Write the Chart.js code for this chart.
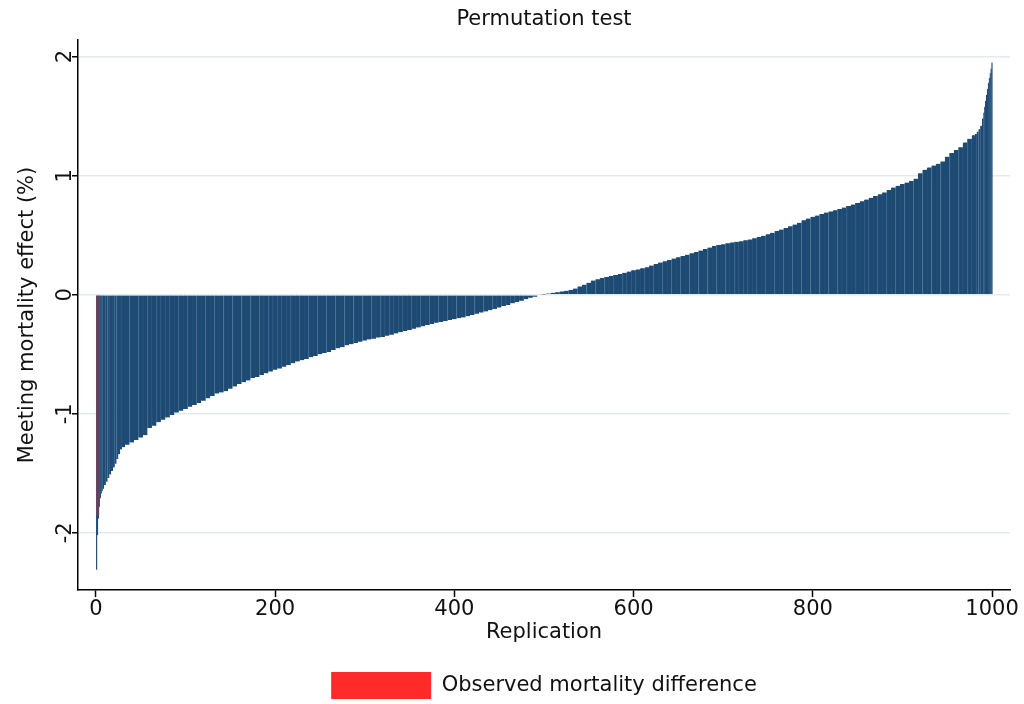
<!DOCTYPE html>
<html>
<head>
<meta charset="utf-8">
<title>Permutation test</title>
<script src="https://cdn.jsdelivr.net/npm/chart.js@4.4.1/dist/chart.umd.min.js"></script>
<style>
  html, body { margin: 0; padding: 0; background: #fff; }
</style>
</head>
<body>
<canvas id="permChart" width="1024" height="704"></canvas>
<script>
// replications: every rep at the tails, every 5 in the middle
const replications = [
  1, 2, 3, 4, 5, 6, 7, 8, 10, 12,
  14, 16, 18, 20, 22, 24, 26, 28, 30, 35,
  40, 45, 50, 55, 60, 65, 70, 75, 80, 85,
  90, 95, 100, 105, 110, 115, 120, 125, 130, 135,
  140, 145, 150, 155, 160, 165, 170, 175, 180, 185,
  190, 195, 200, 205, 210, 215, 220, 225, 230, 235,
  240, 245, 250, 255, 260, 265, 270, 275, 280, 285,
  290, 295, 300, 305, 310, 315, 320, 325, 330, 335,
  340, 345, 350, 355, 360, 365, 370, 375, 380, 385,
  390, 395, 400, 405, 410, 415, 420, 425, 430, 435,
  440, 445, 450, 455, 460, 465, 470, 475, 480, 485,
  490, 495, 500, 505, 510, 515, 520, 525, 530, 535,
  540, 545, 550, 555, 560, 565, 570, 575, 580, 585,
  590, 595, 600, 605, 610, 615, 620, 625, 630, 635,
  640, 645, 650, 655, 660, 665, 670, 675, 680, 685,
  690, 695, 700, 705, 710, 715, 720, 725, 730, 735,
  740, 745, 750, 755, 760, 765, 770, 775, 780, 785,
  790, 795, 800, 805, 810, 815, 820, 825, 830, 835,
  840, 845, 850, 855, 860, 865, 870, 875, 880, 885,
  890, 895, 900, 905, 910, 915, 920, 925, 930, 935,
  940, 945, 950, 955, 960, 965, 970, 975, 980, 982,
  984, 986, 988, 990, 991, 992, 993, 994, 995, 996,
  997, 998, 999, 1000
];

// meeting mortality effect (%) for each replication above, sorted
const effects = [
  -2.31, -2.02, -1.88, -1.78, -1.71, -1.67, -1.65, -1.63, -1.60, -1.57,
  -1.54, -1.51, -1.48, -1.45, -1.42, -1.38, -1.34, -1.30, -1.28, -1.26,
  -1.24, -1.22, -1.20, -1.18, -1.12, -1.10, -1.07, -1.05, -1.03, -1.01,
  -0.99, -0.975, -0.96, -0.94, -0.925, -0.91, -0.89, -0.87, -0.85, -0.83,
  -0.82, -0.81, -0.79, -0.77, -0.75, -0.735, -0.72, -0.70, -0.69, -0.675,
  -0.66, -0.645, -0.63, -0.62, -0.605, -0.59, -0.575, -0.56, -0.55, -0.54,
  -0.525, -0.515, -0.50, -0.49, -0.48, -0.465, -0.45, -0.44, -0.425, -0.415,
  -0.405, -0.395, -0.385, -0.375, -0.37, -0.36, -0.355, -0.345, -0.335, -0.325,
  -0.315, -0.305, -0.295, -0.285, -0.275, -0.265, -0.255, -0.245, -0.235, -0.228,
  -0.22, -0.213, -0.205, -0.197, -0.19, -0.18, -0.17, -0.16, -0.15, -0.14,
  -0.13, -0.12, -0.108, -0.095, -0.085, -0.072, -0.06, -0.05, -0.038, -0.026,
  -0.016, -0.007, 0.002, 0.01, 0.017, 0.022, 0.028, 0.033, 0.04, 0.052,
  0.07, 0.085, 0.10, 0.12, 0.13, 0.14, 0.15, 0.157, 0.165, 0.175,
  0.185, 0.195, 0.205, 0.213, 0.222, 0.232, 0.245, 0.258, 0.27, 0.282,
  0.293, 0.304, 0.315, 0.326, 0.337, 0.348, 0.36, 0.372, 0.385, 0.397,
  0.41, 0.418, 0.425, 0.432, 0.44, 0.445, 0.45, 0.457, 0.465, 0.475,
  0.485, 0.495, 0.508, 0.52, 0.535, 0.548, 0.56, 0.575, 0.59, 0.605,
  0.625, 0.64, 0.655, 0.665, 0.678, 0.69, 0.70, 0.71, 0.72, 0.733,
  0.745, 0.758, 0.77, 0.785, 0.80, 0.815, 0.83, 0.845, 0.86, 0.88,
  0.90, 0.915, 0.93, 0.942, 0.955, 0.975, 1.02, 1.05, 1.07, 1.085,
  1.10, 1.12, 1.16, 1.19, 1.215, 1.24, 1.28, 1.31, 1.34, 1.35,
  1.37, 1.39, 1.42, 1.48, 1.53, 1.58, 1.63, 1.68, 1.73, 1.78,
  1.82, 1.86, 1.90, 1.95
];

// the observed difference, drawn in red over the permutations
const observedReplication = [2];
const observedEffect = [-1.85];

const xTicks = [0, 200, 400, 600, 800, 1000];
const yTicks = [-2, -1, 0, 1, 2];

const barBlue = '#1c4a73';
const barEdge = '#23507a';
const obsRed = '#ff2b2b';
const gridColour = '#e2ebee';

Chart.defaults.font.family = "'DejaVu Sans', sans-serif";
Chart.defaults.font.size = 21;
Chart.defaults.color = '#111';

let ctx = document.getElementById('permChart').getContext('2d');

let permChart = new Chart(ctx, {
    type: 'bar',
    data: {
        datasets: [{
            label: 'Observed mortality difference',
            data: observedReplication.map((r, i) => ({x: r, y: observedEffect[i]})),
            backgroundColor: 'rgba(255, 43, 43, 0.3)',
            borderWidth: 0,
            barThickness: 3,
            grouped: false
        }, {
            label: 'Permutations',
            data: replications.map((r, i) => ({x: r, y: effects[i]})),
            backgroundColor: barBlue,
            borderColor: barEdge,
            borderWidth: {left: 1, right: 0, top: 0, bottom: 0},
            // flex: each bar spans halfway to its neighbours
            barThickness: 'flex',
            categoryPercentage: 1,
            barPercentage: 1
        }]
    },
    options: {
        responsive: false,
        animation: false,
        devicePixelRatio: 1,
        layout: {
            padding: {top: 0, right: 14, bottom: -5, left: 0}
        },
        plugins: {
            title: {
                display: true,
                text: 'Permutation test',
                fullSize: false,
                color: '#111',
                font: {size: 21, weight: 'normal'},
                padding: {top: 7.4, bottom: 7.4}
            },
            legend: {
                display: true,
                position: 'bottom',
                fullSize: false,
                labels: {
                    boxWidth: 100,
                    boxHeight: 27,
                    padding: 18,
                    color: '#111',
                    font: {size: 21},
                    generateLabels: function (chart) {
                        return Chart.defaults.plugins.legend.labels.generateLabels(chart).map(function (item) {
                            item.fillStyle = obsRed;
                            item.strokeStyle = obsRed;
                            item.lineWidth = 0;
                            return item;
                        });
                    },
                    filter: item => item.datasetIndex === 0
                }
            },
            tooltip: {enabled: false}
        },
        scales: {
            x: {
                type: 'linear',
                min: -20,
                max: 1020,
                offset: false,
                afterBuildTicks: axis => { axis.ticks = xTicks.map(v => ({value: v})); },
                afterFit: axis => { axis.height = 64; },
                ticks: {padding: 0, maxRotation: 0, color: '#111', callback: v => String(v)},
                grid: {
                    offset: false,
                    drawOnChartArea: false,
                    drawTicks: true,
                    tickLength: 7,
                    tickWidth: 1.5,
                    tickColor: '#000'
                },
                border: {display: true, color: '#000', width: 1.5},
                title: {
                    display: true,
                    text: 'Replication',
                    color: '#111',
                    padding: {top: 0, bottom: 8.4}
                }
            },
            y: {
                min: -2.48,
                max: 2.14,
                afterBuildTicks: axis => { axis.ticks = yTicks.map(v => ({value: v})); },
                afterFit: axis => { axis.width = 78; },
                ticks: {
                    minRotation: 90,
                    maxRotation: 90,
                    crossAlign: 'center',
                    padding: -4,
                    color: '#111',
                    callback: v => String(v)
                },
                grid: {
                    color: gridColour,
                    lineWidth: 1.5,
                    drawTicks: true,
                    tickLength: 6,
                    tickWidth: 1.5,
                    tickColor: '#000'
                },
                border: {display: true, color: '#000', width: 1.5},
                title: {
                    display: true,
                    text: 'Meeting mortality effect (%)',
                    color: '#111',
                    padding: {top: 15.4, bottom: 0}
                }
            }
        }
    }
});
</script>
</body>
</html>
